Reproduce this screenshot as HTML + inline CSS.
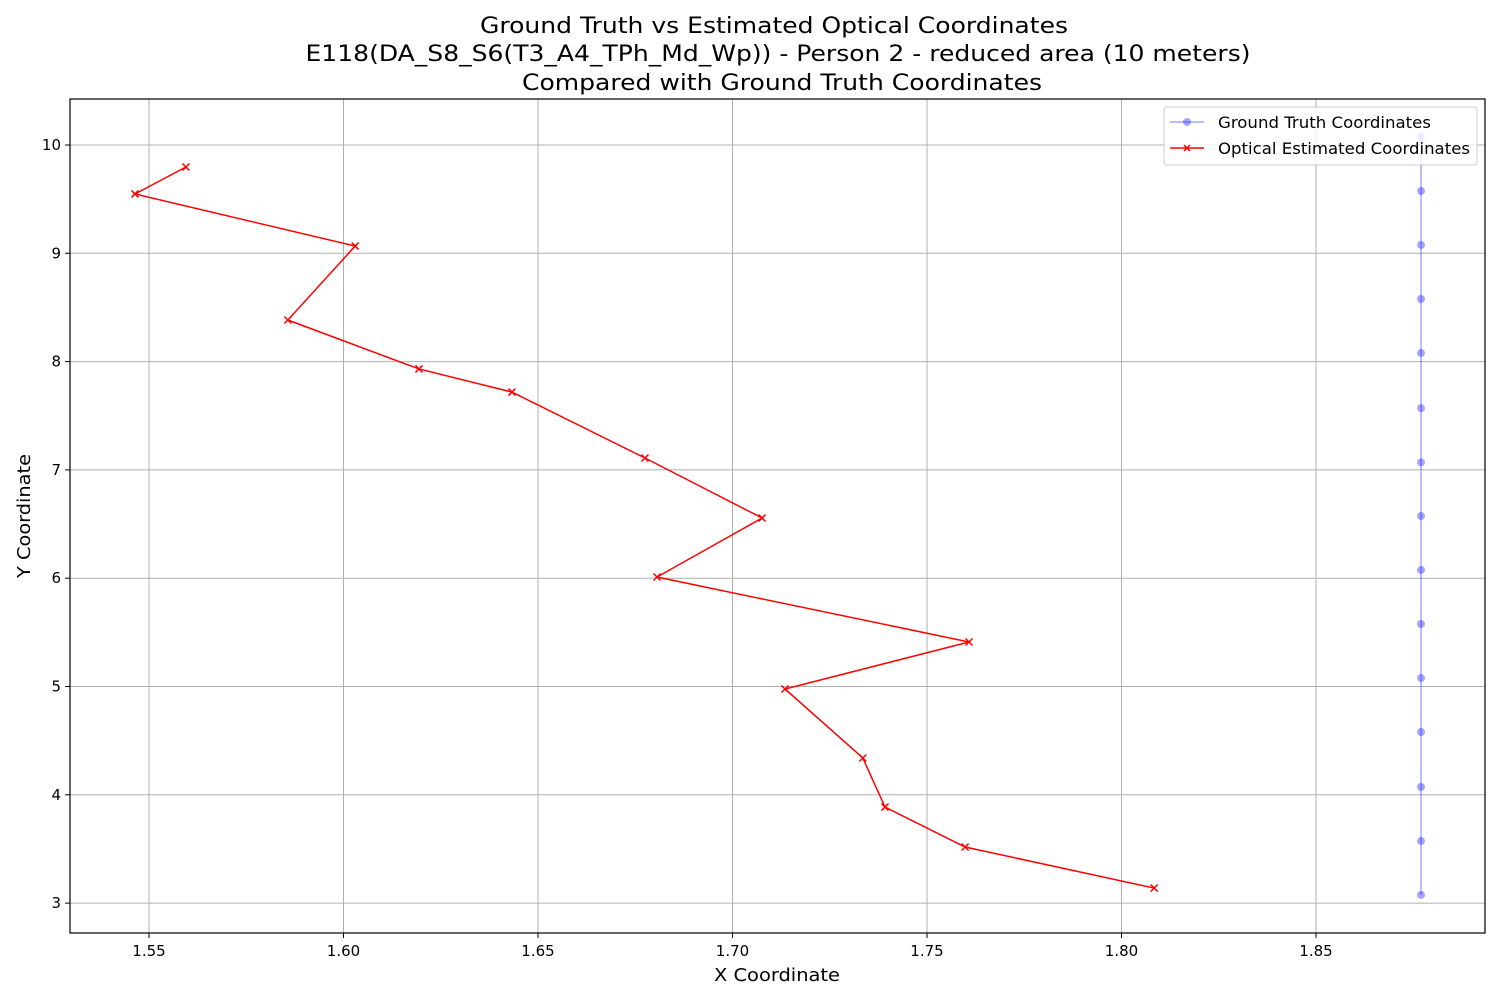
<!DOCTYPE html>
<html><head><meta charset="utf-8"><style>body{margin:0;background:#fff}svg{display:block;font-family:"DejaVu Sans","Liberation Sans",sans-serif}</style></head>
<body>
<svg id="chart" width="1500" height="1000">
<g id="title" font-size="22" text-anchor="middle" fill="#000">
<text x="774" y="33" textLength="588" lengthAdjust="spacingAndGlyphs">Ground Truth vs Estimated Optical Coordinates</text>
<text x="778" y="61" textLength="945" lengthAdjust="spacingAndGlyphs">E118(DA_S8_S6(T3_A4_TPh_Md_Wp)) - Person 2 - reduced area (10 meters)</text>
<text x="782" y="90" textLength="520" lengthAdjust="spacingAndGlyphs">Compared with Ground Truth Coordinates</text>
</g>
<g id="grid"></g>
<g id="ticks"></g>
<g id="series"></g>
<rect x="70" y="99" width="1415" height="834" fill="none" stroke="#000" stroke-width="1.2"/>
<text x="777" y="981" font-size="18" text-anchor="middle" textLength="126" lengthAdjust="spacingAndGlyphs">X Coordinate</text>
<text transform="translate(30,516) rotate(-90)" font-size="18" text-anchor="middle" textLength="124" lengthAdjust="spacingAndGlyphs">Y Coordinate</text>
<g>
<rect x="1164" y="107" width="313" height="58" rx="3" fill="#fff" fill-opacity="0.8" stroke="#ccc"/>
<g>
<line x1="1170" y1="122" x2="1204" y2="122" stroke="#00f" stroke-opacity="0.35" stroke-width="1.5"/>
<circle cx="1187" cy="122" r="4" fill="#00f" fill-opacity="0.35"/>
<text x="1218" y="128" font-size="16" textLength="213" lengthAdjust="spacingAndGlyphs">Ground Truth Coordinates</text></g>
<g>
<line x1="1170" y1="148" x2="1204" y2="148" stroke="red" stroke-width="1.5"/>
<path d="M1184 145l6 6M1190 145l-6 6" stroke="red" stroke-width="1.5"/>
<text x="1218" y="154" font-size="16" textLength="252" lengthAdjust="spacingAndGlyphs">Optical Estimated Coordinates</text></g>
</g>
</svg>
<script>
const xTicks=[1.55,1.60,1.65,1.70,1.75,1.80,1.85];
const yTicks=[3,4,5,6,7,8,9,10];
const gtX=[1.877,1.877,1.877,1.877,1.877,1.877,1.877,1.877,1.877,1.877,1.877,1.877,1.877,1.877,1.877];
const gtY=[10.08,9.575,9.077,8.578,8.079,7.57,7.07,6.574,6.076,5.577,5.078,4.58,4.072,3.573,3.075];
const opX=[1.5595,1.5464,1.6030,1.5857,1.6194,1.6433,1.6775,1.7076,1.6806,1.7608,1.7135,1.7335,1.7392,1.7598,1.8084];
const opY=[9.797,9.548,9.067,8.384,7.932,7.719,7.110,6.556,6.011,5.411,4.977,4.340,3.887,3.518,3.139];
const NS='http://www.w3.org/2000/svg';
const sx=v=>149+(v-1.55)*3890;
const sy=v=>145+(10-v)*108.3;
function mk(t,a,p){const e=document.createElementNS(NS,t);for(const k in a)e.setAttribute(k,a[k]);p.appendChild(e);return e;}
const grid=document.getElementById('grid'),ticks=document.getElementById('ticks'),ser=document.getElementById('series');
xTicks.forEach(v=>{const x=sx(v);
const l=mk('line',{x1:x,x2:x,y1:99,y2:933,stroke:'#b0b0b0','stroke-width':1},grid);


mk('line',{x1:x,x2:x,y1:933,y2:938,stroke:'#000'},ticks);
const t=mk('text',{x:x,y:956,'font-size':15,'text-anchor':'middle'},ticks);t.textContent=v.toFixed(2);

});
yTicks.forEach(v=>{const y=sy(v);
const l=mk('line',{x1:70,x2:1485,y1:y,y2:y,stroke:'#b0b0b0','stroke-width':1},grid);


mk('line',{x1:65,x2:70,y1:y,y2:y,stroke:'#000'},ticks);
const t=mk('text',{x:61,y:y+5,'font-size':15,'text-anchor':'end'},ticks);t.textContent=v;

});
const gl=mk('polyline',{points:gtX.map((v,i)=>sx(v)+','+sy(gtY[i])).join(' '),fill:'none',stroke:'#00f','stroke-opacity':0.35,'stroke-width':1.5},ser);


gtX.forEach((v,i)=>{const c=mk('circle',{cx:sx(v),cy:sy(gtY[i]),r:4,fill:'#00f','fill-opacity':0.35},ser);

});
const ol=mk('polyline',{points:opX.map((v,i)=>sx(v)+','+sy(opY[i])).join(' '),fill:'none',stroke:'red','stroke-width':1.5},ser);


opX.forEach((v,i)=>{const x=sx(v),y=sy(opY[i]);
const m=mk('path',{d:`M${x-3.5} ${y-3.5}l7 7M${x+3.5} ${y-3.5}l-7 7`,stroke:'red','stroke-width':1.5},ser);

});
</script>
</body></html>
